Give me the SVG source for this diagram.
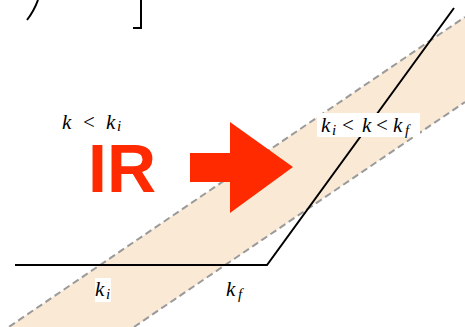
<svg xmlns="http://www.w3.org/2000/svg" width="465" height="327" viewBox="0 0 465 327">
<style>
.dash{fill:none;stroke:#9a9a9a;stroke-width:2;stroke-dasharray:7,4}
.ln{fill:none;stroke:#000;stroke-width:2}
.m{font-family:"Liberation Serif",serif;font-style:italic;font-size:21px;fill:#000}
.s{font-size:15px}
.op{font-style:normal}
</style>
<g id="band">
<polygon points="0,333 465,17 465,102 134,327 0,327" fill="#f9e9d5"/>
</g>
<g id="connectors">
<line class="dash" x1="0" y1="333" x2="465" y2="17"/>
<line class="dash" x1="134" y1="327" x2="465" y2="102"/>
<polyline class="ln" points="15,265 267,265 454,8"/>
<path class="ln" d="M27,20 Q34,11 38,0" stroke-width="1.8"/>
<polyline class="ln" points="133,28 141,28 141,0"/>
</g>
<g id="arrow">
<polygon points="190,153 230,153 230,122 293,167 230,213 230,182 190,182" fill="#ff2a00"/>
</g>
<g id="ir">
<text x="88" y="192" font-family="Liberation Sans,Arial,sans-serif" font-weight="bold" font-size="68" fill="#ff2a00">IR</text>
</g>
<g id="label-left">
<text class="m" y="129"><tspan x="62">k</tspan><tspan x="83" class="op">&lt;</tspan><tspan x="106">k</tspan><tspan x="117" dy="2" class="s">i</tspan></text>
</g>
<g id="label-mid">
<rect x="317" y="113" width="103" height="24" fill="#fff"/>
<text class="m" y="132"><tspan x="321">k</tspan><tspan x="332" dy="3" class="s">i</tspan><tspan x="342" dy="-3" class="op">&lt;</tspan><tspan x="362">k</tspan><tspan x="376" class="op">&lt;</tspan><tspan x="393">k</tspan><tspan x="405" dy="3" class="s">f</tspan></text>
</g>
<g id="label-ki">
<rect x="95" y="278" width="16" height="24" fill="#fff"/>
<text class="m" y="296"><tspan x="95">k</tspan><tspan x="106" dy="3" class="s">i</tspan></text>
</g>
<g id="label-kf">
<text class="m" y="296"><tspan x="226">k</tspan><tspan x="238" dy="3" class="s">f</tspan></text>
</g>
</svg>
